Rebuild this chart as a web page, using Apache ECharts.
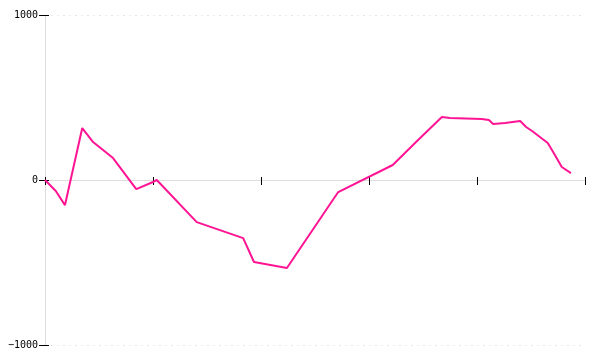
<!DOCTYPE html>
<html><head><meta charset="utf-8">
<script src="https://cdn.jsdelivr.net/npm/echarts@6/dist/echarts.min.js"></script>
<style>html,body{margin:0;padding:0;background:#fff}#c{width:600px;height:360px}</style>
</head><body><div id="c"></div>
<script>
const xValues = [0, 2.0, 3.7, 6.9, 8.9, 12.6, 16.9, 20, 20.7, 28.1, 36.7, 38.7, 44.8, 54.3, 64.4, 68.9, 73.5, 75, 80.9, 82.2, 83, 85.2, 88, 89.1, 90.2, 93.1, 94.1, 95.7, 97.4];
const yValues = [0, -67, -152, 315, 230, 133, -55, -12, 0, -255, -352, -497, -533, -73, 91, 236, 382, 376, 370, 364, 339, 345, 358, 321, 297, 224, 170, 79, 42];
const yTicks = [-1000, 0, 1000];

const chart = echarts.init(document.getElementById('c'), null, {renderer: 'canvas'});
const font = 'DejaVu Sans Mono';
const common = {type: 'value', min: 0, max: 100, interval: 20, position: 'bottom'};
chart.setOption({
  animation: false,
  grid: {left: 45, right: 15, top: 15, bottom: 15, containLabel: false},
  xAxis: [
    Object.assign({}, common, {
      axisLine: {onZero: true, lineStyle: {color: '#dddddd', width: 1}},
      axisTick: {show: true, length: 5, lineStyle: {color: '#000'}},
      axisLabel: {show: false},
      splitLine: {show: false}
    }),
    Object.assign({}, common, {
      axisLine: {onZero: true, show: false},
      axisTick: {show: true, inside: true, length: 3, lineStyle: {color: '#000'}},
      axisLabel: {show: false},
      splitLine: {show: false}
    })
  ],
  yAxis: [
    {
      type: 'value', min: yTicks[0], max: yTicks[2], interval: 1000,
      axisLine: {show: true, lineStyle: {color: '#dddddd'}},
      axisTick: {show: true, length: 6, lineStyle: {color: '#000'}},
      axisLabel: {margin: 7, color: '#000', fontFamily: font, fontSize: 10,
        formatter: v => (v < 0 ? '\u2212' + Math.abs(v) : String(v))},
      splitLine: {show: true, lineStyle: {color: '#e8e8e8', type: [2, 4]}}
    },
    {
      type: 'value', min: yTicks[0], max: yTicks[2], interval: 1000, position: 'left',
      axisLine: {show: false},
      axisTick: {show: true, inside: true, length: 4, lineStyle: {color: '#000'}},
      axisLabel: {show: false},
      splitLine: {show: false}
    }
  ],
  series: [{
    type: 'line',
    xAxisIndex: 0, yAxisIndex: 0,
    data: xValues.map((x, i) => [x, yValues[i]]),
    showSymbol: false,
    lineStyle: {color: '#ff1493', width: 2},
    itemStyle: {color: '#ff1493'}
  }]
});
</script></body></html>
